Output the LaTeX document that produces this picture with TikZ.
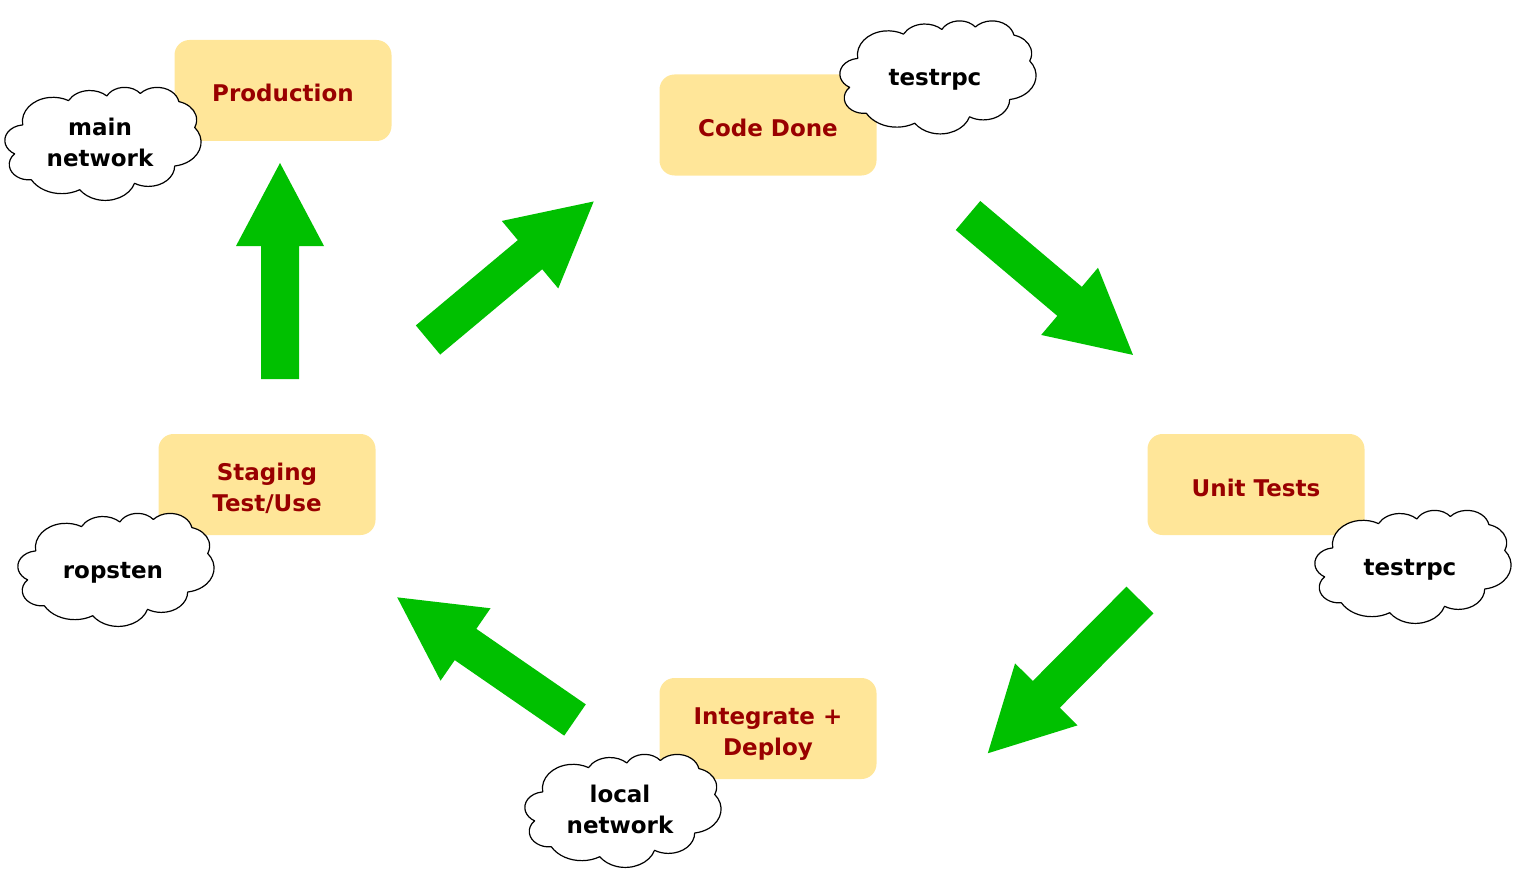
\documentclass[tikz,border=0pt]{standalone}
\usepackage{fontspec}
\setmainfont{DejaVu Sans}
\definecolor{boxfill}{HTML}{FFE699}
\definecolor{boxtext}{HTML}{990000}
\definecolor{arrgreen}{HTML}{00C000}
\tikzset{
 stage/.style={fill=boxfill, rounded corners=15pt, minimum width=217pt, minimum height=101pt, inner sep=0pt, font=\bfseries\fontsize{23}{31}\selectfont, text=boxtext, align=center,
   execute at begin node={\rule{0pt}{29pt}}, execute at end node={\rule[-6pt]{0pt}{6pt}}},
 stagetwo/.style={stage, execute at begin node={\rule{0pt}{60pt}}},
 cloudtext/.style={font=\bfseries\fontsize{23}{31}\selectfont, text=black, align=center, inner sep=0pt, xshift=-3pt,
   execute at begin node={\rule{0pt}{24pt}}, execute at end node={\rule[-6pt]{0pt}{6pt}}},
 cloudtexttwo/.style={cloudtext, execute at begin node={\rule{0pt}{52pt}}},
 blockarr/.pic={\fill[arrgreen] (0,-19) -- (133,-19) -- (133,-44) -- (216,0) -- (133,44) -- (133,19) -- (0,19) -- cycle;},
 netcloud/.pic={
  \begin{scope}[xscale=1.96,yscale=1.13]
  \draw[black, line width=1.2pt, fill=white, line join=round]
   (-40.972,-16.736)
   arc[start angle=-187.745, delta angle=128.10, x radius=15.632, y radius=21.273]
   arc[start angle=-152.02, delta angle=106.57, x radius=12.345, y radius=16.822]
   arc[start angle=-153.49, delta angle=116.16, x radius=10.104, y radius=13.762]
   arc[start angle=-139.71, delta angle=129.50, x radius=11.243, y radius=15.266]
   arc[start angle=-74.77, delta angle=97.98, x radius=12.345, y radius=16.836]
   arc[start angle=-37.52, delta angle=119.38, x radius=15.683, y radius=21.343]
   arc[start angle=0.46, delta angle=121.52, x radius=13.391, y radius=18.211]
   arc[start angle=16.84, delta angle=129.39, x radius=15.630, y radius=21.331]
   arc[start angle=58.98, delta angle=91.21, x radius=17.870, y radius=24.405]
   arc[start angle=-276.69, delta angle=139.80, x radius=10.093, y radius=13.699]
   arc[start angle=-239.65, delta angle=143.76, x radius=10.058, y radius=13.762]
   -- cycle;
  \end{scope}
 }
}
\begin{document}
\begin{tikzpicture}[x=1pt,y=-1pt]
\useasboundingbox (0,0) rectangle (1518,880);
% stage boxes
\node[stage] (prod) at (283,90.5) {Production};
\node[stage] (code) at (768,125) {Code Done};
\node[stage] (unit) at (1256,484.5) {Unit Tests};
\node[stagetwo] (integ) at (768,728.5) {Integrate +\\Deploy};
\node[stagetwo] (stag) at (267,484.5) {Staging\\Test/Use};
% clouds
\coordinate (cmain) at (103,143.5);
\coordinate (ctop) at (938,77);
\coordinate (cright) at (1413,566.5);
\coordinate (crop) at (116,569.5);
\coordinate (clocal) at (623,810.5);
\pic at (cmain) {netcloud};
\node[cloudtexttwo] (tmain) at (cmain) {main\\network};
\pic at (ctop) {netcloud};
\node[cloudtext] (ttop) at (ctop) {testrpc};
\pic at (cright) {netcloud};
\node[cloudtext] (tright) at (cright) {testrpc};
\pic at (crop) {netcloud};
\node[cloudtext] (trop) at (crop) {ropsten};
\pic at (clocal) {netcloud};
\node[cloudtexttwo] (tlocal) at (clocal) {local\\network};
% block arrows
\pic[rotate=90] at (280,379) {blockarr};
\pic[rotate=39.9] at (428,340) {blockarr};
\pic[rotate=-40.2] at (968,215.5) {blockarr};
\pic[rotate=225.2] at (1140,600) {blockarr};
\pic[rotate=145.4] at (575,720) {blockarr};
\end{tikzpicture}
\end{document}
